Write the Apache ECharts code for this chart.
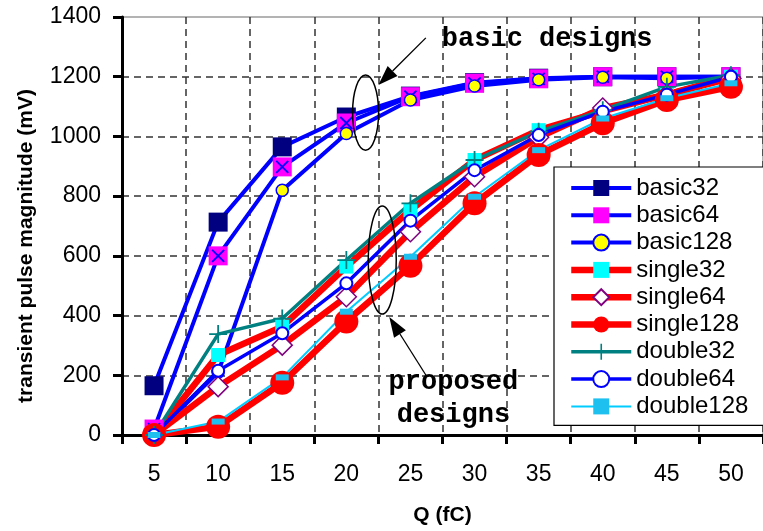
<!DOCTYPE html>
<html>
<head>
<meta charset="utf-8">
<script src="https://cdn.jsdelivr.net/npm/echarts@6/dist/echarts.min.js"></script>
<style>html,body{margin:0;padding:0;background:#fff;}#c{width:763px;height:531px;}</style>
</head>
<body>
<div id="c"></div>
<script>
// ---- data ----
const categories = ['5','10','15','20','25','30','35','40','45','50'];
const yTicks = [0,200,400,600,800,1000,1200,1400];
const basic32  = [165, 713, 965, 1065, 1135, 1180, 1195, 1200, 1200, 1200];
const basic64  = [20, 600, 898, 1045, 1133, 1178, 1193, 1200, 1200, 1200];
const basic128 = [0, 210, 820, 1010, 1122, 1169, 1190, 1198, 1195, 1200];
const single32  = [0, 268, 363, 564, 753, 921, 1021, 1085, 1140, 1200];
const single64  = [0, 162, 301, 463, 681, 865, 997, 1095, 1140, 1195];
const single128 = [0, 28, 175, 380, 567, 776, 938, 1044, 1122, 1166];
const double32  = [0, 338, 390, 586, 776, 921, 1016, 1088, 1166, 1205];
const double64  = [0, 215, 341, 508, 718, 887, 1005, 1083, 1140, 1200];
const double128 = [0, 45, 193, 413, 597, 798, 954, 1060, 1128, 1178];
const legendNames = ['basic32','basic64','basic128','single32','single64','single128','double32','double64','double128'];

const FONT = 'Liberation Sans';
const PLUS = 'path://M9,0 h2 v9 h9 v2 h-9 v9 h-2 v-9 h-9 v-2 h9 z';
const XMARK = 'path://M0,0 L20,20 M20,0 L0,20';

function ser(name, data, lineColor, lineWidth, symbol, size, fill, border, bw, extra) {
  return Object.assign({
    name: name, type: 'line', data: data,
    symbol: symbol, symbolSize: size, showSymbol: true,
    lineStyle: {color: lineColor, width: lineWidth},
    itemStyle: {color: fill, borderColor: border, borderWidth: bw},
    emphasis: {disabled: true}, animation: false
  }, extra || {});
}

const lineW = {basic32: 4, basic64: 4, basic128: 4, single32: 6.5, single64: 6.5, single128: 6.5, double32: 3.5, double64: 3.5, double128: 2};

const series = [
  ser('basic32', basic32, '#0000FF', lineW.basic32, 'rect', 19, '#000080', '#000080', 0),
  ser('basic64', basic64, '#0000FF', lineW.basic64, 'rect', 19, '#FF00FF', '#FF00FF', 0),
  {name: 'basic64x', type: 'line', data: basic64, symbol: XMARK, symbolSize: 12,
   lineStyle: {opacity: 0, width: 0}, itemStyle: {color: 'transparent', borderColor: '#0000FF', borderWidth: 1.8},
   silent: true, animation: false, emphasis: {disabled: true}},
  ser('basic128', basic128, '#0000FF', lineW.basic128, 'circle', 12, '#FFFF00', '#0000FF', 1.5),
  ser('single32', single32, '#FF0000', lineW.single32, 'rect', 14, '#00FFFF', '#00FFFF', 0),
  ser('single64', single64, '#FF0000', lineW.single64, 'diamond', 20, '#FFFFFF', '#800080', 1.5),
  ser('single128', single128, '#FF0000', lineW.single128, 'circle', 24, '#FF0000', '#FF0000', 0),
  ser('double32', double32, '#008080', lineW.double32, PLUS, 18, '#008080', '#008080', 0),
  ser('double64', double64, '#0000FF', lineW.double64, 'circle', 12, '#FFFFFF', '#0000FF', 2),
  ser('double128', double128, '#00CCFF', lineW.double128, 'rect', [13, 6], '#1EC0F0', '#1EC0F0', 0)
];

const chart = echarts.init(document.getElementById('c'), null, {renderer: 'canvas'});
const option = {
  animation: false,
  backgroundColor: '#ffffff',
  grid: {left: 122, top: 17, right: -9, bottom: 96, show: true, borderColor: '#9a9a9a', borderWidth: 1.5, backgroundColor: 'transparent'},
  xAxis: {
    type: 'category', data: categories, boundaryGap: true,
    name: 'Q (fC)', nameLocation: 'middle', nameGap: 70,
    nameTextStyle: {fontFamily: FONT, fontSize: 21, fontWeight: 'bold', color: '#000'},
    axisLine: {lineStyle: {color: '#000', width: 3}},
    axisTick: {show: true, length: 9, lineStyle: {color: '#000', width: 3}},
    axisLabel: {fontFamily: FONT, fontSize: 23, color: '#000', margin: 28},
    splitLine: {show: true, lineStyle: {color: '#333', width: 1.5, type: [7, 5]}}
  },
  yAxis: {
    type: 'value', min: 0, max: 1400, interval: 200,
    name: 'transient pulse magnitude (mV)', nameLocation: 'middle', nameGap: 85,
    nameTextStyle: {fontFamily: FONT, fontSize: 21, fontWeight: 'bold', color: '#000', padding: [0, 40, 0, 0]},
    axisLine: {show: true, lineStyle: {color: '#000', width: 3}},
    axisTick: {show: true, length: 9, lineStyle: {color: '#000', width: 3}},
    axisLabel: {fontFamily: FONT, fontSize: 23, color: '#000', margin: 21, formatter: function (v) { return String(v); }},
    splitLine: {show: true, showMinLine: false, showMaxLine: false, lineStyle: {color: '#333', width: 1.5, type: [7, 5]}}
  },
  legend: {
    data: legendNames.map(function (n) { return {name: n, lineStyle: {width: lineW[n]}}; }),
    orient: 'vertical', left: 554, top: 167,
    backgroundColor: '#ffffff', borderColor: '#000', borderWidth: 1.2, borderRadius: 0,
    padding: [9, 30, 7, 14], itemWidth: 60, itemHeight: 20, itemGap: 3.3,
    selectedMode: false,
    textStyle: {fontFamily: FONT, fontSize: 24, color: '#000'}
  },
  series: series
};
chart.setOption(option);

// ---- annotations positioned through the axes ----
function X(f) {
  const i = Math.floor(f);
  const a = chart.convertToPixel({xAxisIndex: 0}, categories[i]);
  const b = chart.convertToPixel({xAxisIndex: 0}, categories[Math.min(i + 1, categories.length - 1)]);
  return a + (b - a) * (f - i);
}
function Y(v) { return chart.convertToPixel({yAxisIndex: 0}, v); }
function arrow(tail, tip, len, hw) {
  const dx = tip[0] - tail[0], dy = tip[1] - tail[1];
  const L = Math.hypot(dx, dy), ux = dx / L, uy = dy / L;
  const bx = tip[0] - ux * len, by = tip[1] - uy * len;
  return [
    {type: 'line', shape: {x1: tail[0], y1: tail[1], x2: bx, y2: by}, style: {stroke: '#000', lineWidth: 1.3}, z: 10},
    {type: 'polygon', shape: {points: [tip, [bx - uy * hw, by + ux * hw], [bx + uy * hw, by - ux * hw]]}, style: {fill: '#000'}, z: 10}
  ];
}
const MONO = 'Liberation Mono';
const graphics = [].concat(
  [{type: 'ellipse', shape: {cx: X(3.3), cy: Y(1080), rx: 13, ry: Y(1080) - Y(1206)}, style: {fill: 'none', stroke: '#000', lineWidth: 1.5}, z: 10}],
  arrow([X(4.24), Y(1330)], [X(3.5), Y(1172)], 20, 7),
  [{type: 'text', x: X(4.49), y: Y(1327), style: {text: 'basic designs', font: 'bold 27px "' + MONO + '"', fill: '#000', textAlign: 'left', textVerticalAlign: 'middle'}, z: 10}],
  [{type: 'ellipse', shape: {cx: X(3.56), cy: Y(586), rx: 14, ry: Y(586) - Y(767)}, style: {fill: 'none', stroke: '#000', lineWidth: 1.5}, z: 10}],
  arrow([X(4.24), Y(201)], [X(3.67), Y(395)], 20, 7),
  [{type: 'text', x: X(4.67), y: Y(177), style: {text: 'proposed', font: 'bold 27px "' + MONO + '"', fill: '#000', textAlign: 'center', textVerticalAlign: 'middle'}, z: 10},
   {type: 'text', x: X(4.67), y: Y(67), style: {text: 'designs', font: 'bold 27px "' + MONO + '"', fill: '#000', textAlign: 'center', textVerticalAlign: 'middle'}, z: 10}]
);
chart.setOption({graphic: graphics});
</script>
</body>
</html>
